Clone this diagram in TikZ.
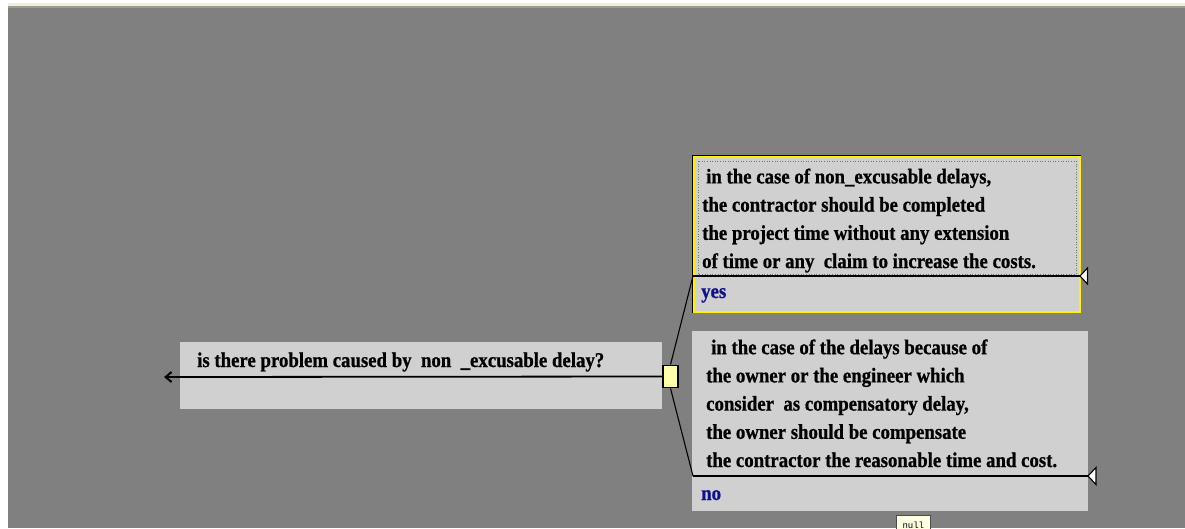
\documentclass[tikz,border=0pt]{standalone}
\usepackage{fontspec}
\setmainfont{Liberation Serif}[FakeStretch=0.895, FakeBold=0.8]
\setmonofont{Liberation Mono}
\usetikzlibrary{arrows.meta}
\definecolor{canvas}{HTML}{808080}
\definecolor{panel}{HTML}{D0D0D0}
\definecolor{stripcream}{HTML}{F1EEDF}
\definecolor{stripline}{HTML}{9E9C8E}
\definecolor{answerblue}{HTML}{10108A}
\definecolor{knob}{HTML}{FFFFAA}
\definecolor{tipfill}{HTML}{FFFFE1}
\tikzset{
  panelbox/.style={fill=panel, draw=none, inner sep=0pt, anchor=north west},
  % multi-line text: the base anchor sits on the last line's baseline
  bodytext/.style={inner sep=0pt, anchor=base west, align=left,
    font=\bfseries\fontsize{21}{28.2}\selectfont},
  answertext/.style={inner sep=0pt, anchor=base west, text=answerblue,
    font=\bfseries\fontsize{21}{24}\selectfont},
  wire/.style={draw=black, line width=1.8pt},
  slant/.style={draw=black, line width=1.1pt},
  endtri/.style={fill=white, draw=black, line width=1.1pt, line join=miter},
}
\begin{document}
\begin{tikzpicture}[x=1pt, y=-1pt]
  % page, window strip and canvas
  \fill[white] (0,0) rectangle (1185,528);
  \useasboundingbox (0,0) rectangle (1185,528);
  \fill[stripcream] (8,3) rectangle (1185,6);
  \fill[stripline] (8,6) rectangle (1185,8);
  \fill[canvas] (8,8) rectangle (1185,528);

  % question panel
  \node[panelbox, minimum width=482pt, minimum height=67pt] (qbox) at (180,342) {};
  \node[bodytext] (qtext) at (197,367) {is there problem caused by \ non \ \_excusable delay?};
  \coordinate (qtip) at (164,377);

  % branching knob
  \node[fill=knob, draw=black, line width=1.8pt, inner sep=0pt,
        minimum width=15pt, minimum height=22pt] (knob) at (670.5,376.5) {};

  % "yes" panel (selected: yellow frame inside a thin black outline)
  \node[panelbox, draw=black, line width=1pt, minimum width=388pt, minimum height=157pt] (yesbox) at (692,155) {};
  \draw[yellow, line width=2pt] ([shift={(1.5,1.5)}]yesbox.north west) rectangle ([shift={(-1.5,-1.5)}]yesbox.south east);
  \draw[gray!90!black, dotted, line width=0.6pt] (698,161) rectangle (1076,274);
  \node[bodytext] (yestext) at (702,268)
    {\hspace{4pt}in the case of non\_excusable delays,\\
     the contractor should be completed\\
     the project time without any extension\\
     of time or any \ claim to increase the costs.};
  \node[answertext] (yeslabel) at (701,298) {yes};
  \coordinate (yescorner) at (693,276);
  \coordinate (yesend) at (1080,276);
  \draw[endtri] (1080,276) -- (1087.5,268) -- (1087.5,284) -- cycle;

  % "no" panel
  \node[panelbox, minimum width=396pt, minimum height=180pt] (nobox) at (692,331) {};
  \node[bodytext] (notext) at (706,467)
    {\hspace{5pt}in the case of the delays because of\\
     the owner or the engineer which\\
     consider \ as compensatory delay,\\
     the owner should be compensate\\
     the contractor the reasonable time and cost.};
  \node[answertext] (nolabel) at (701,500) {no};
  \coordinate (nocorner) at (693,476);
  \coordinate (noend) at (1088,476);
  \draw[endtri] (1088,476) -- (1096,467.5) -- (1096,484.5) -- cycle;

  % connectors
  \draw[wire, -{Straight Barb[length=6pt, width=10pt, line width=2pt]}] (knob.west) -- (qtip);
  \draw[slant] (knob.north) -- (yescorner);
  \draw[wire] (yescorner) -- (yesend);
  \draw[slant] (knob.south) -- (nocorner);
  \draw[wire] (nocorner) -- (noend);

  % tooltip peeking in at the bottom edge
  \node[fill=tipfill, draw=gray!60!black, line width=0.6pt, anchor=north west,
        minimum width=34pt, minimum height=20pt, inner sep=1pt,
        font=\ttfamily\fontsize{9}{10}\selectfont, text depth=0pt] (tip) at (896,515) {null};
\end{tikzpicture}
\end{document}
